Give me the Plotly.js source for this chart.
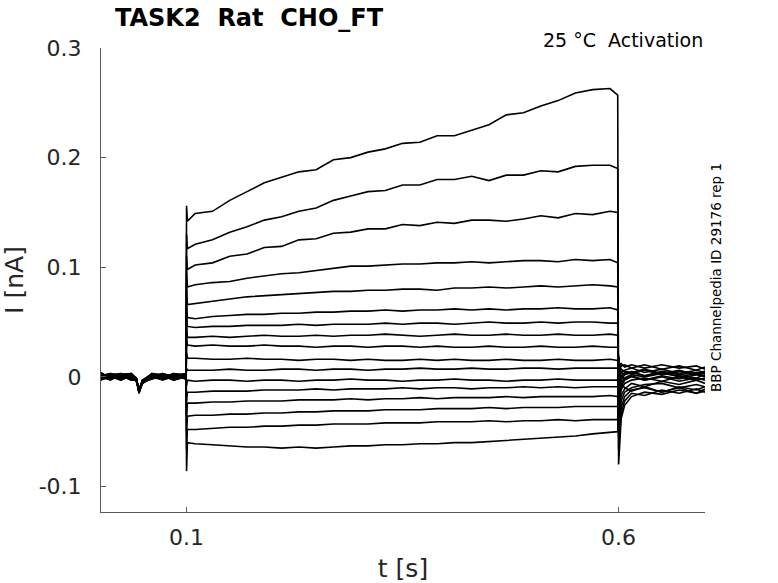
<!DOCTYPE html>
<html>
<head>
<meta charset="utf-8">
<script src="https://cdn.plot.ly/plotly-3.0.1.min.js"></script>
<style>html,body{margin:0;padding:0;background:#fff;}#chart{width:778px;height:583px;}</style>
</head>
<body>
<div id="chart"></div>
<script>
// time samples [s]
const tPre = [0.001, 0.012, 0.024, 0.036, 0.042, 0.045, 0.049, 0.06, 0.072, 0.085, 0.0995];
const tOn = 0.1;
const tStep = [0.101, 0.11, 0.13, 0.15, 0.17, 0.19, 0.21, 0.23, 0.25, 0.27, 0.29, 0.31, 0.33, 0.35,
               0.37, 0.39, 0.41, 0.43, 0.45, 0.47, 0.49, 0.51, 0.53, 0.55, 0.57, 0.59, 0.599];
const tPost = [0.6, 0.603, 0.607, 0.615, 0.63, 0.65, 0.67, 0.69, 0.7];

// current [nA] before the step, one row per sweep
const preI = [
  [0.002,-0.002,0.003,0.000,-0.003,-0.013,-0.004,0.002,-0.001,0.003,0.001],
  [-0.001,0.003,-0.002,0.002,-0.004,-0.012,-0.005,-0.001,0.002,-0.002,0.000],
  [0.003,0.000,0.001,-0.003,-0.002,-0.014,-0.003,0.003,0.000,0.001,-0.002],
  [0.000,0.002,-0.003,0.001,-0.004,-0.011,-0.006,0.000,0.003,-0.001,0.002],
  [-0.002,-0.001,0.002,0.003,-0.001,-0.013,-0.004,-0.002,0.001,0.002,-0.001],
  [0.001,0.003,0.000,-0.002,-0.003,-0.015,-0.005,0.001,-0.003,0.000,0.003],
  [0.004,-0.002,0.001,0.000,-0.002,-0.012,-0.003,0.002,0.001,-0.003,0.000],
  [-0.003,0.001,-0.001,0.002,-0.004,-0.013,-0.006,-0.001,0.002,0.001,-0.002],
  [0.000,-0.003,0.002,-0.001,-0.003,-0.014,-0.004,0.003,-0.002,0.002,0.001],
  [0.002,0.001,-0.002,0.003,-0.002,-0.012,-0.005,0.000,0.000,-0.002,0.003],
  [-0.001,0.002,0.003,-0.002,-0.003,-0.013,-0.003,-0.002,0.003,0.000,-0.001],
  [0.003,-0.001,0.000,0.001,-0.004,-0.011,-0.004,0.001,-0.001,0.003,0.002],
  [-0.002,0.000,-0.003,0.002,-0.002,-0.014,-0.006,0.002,0.001,-0.001,0.000],
  [0.001,0.003,0.001,-0.001,-0.003,-0.012,-0.003,-0.001,-0.002,0.002,-0.002],
  [0.000,-0.002,0.002,0.003,-0.004,-0.013,-0.005,0.003,0.002,-0.003,0.001],
  [-0.003,0.002,-0.001,0.000,-0.002,-0.015,-0.004,0.000,-0.001,0.001,0.003],
  [0.002,0.000,0.003,-0.003,-0.003,-0.012,-0.005,-0.002,0.003,0.000,-0.001]
];

// capacitive spike at step onset
const spikeOn = [0.156, 0.130, 0.110, 0.095, 0.080, 0.065, 0.055, 0.045, 0.035, 0.022,
                 0.008, -0.008, -0.022, -0.036, -0.050, -0.066, -0.086];

// current during the step
const stepI = [
  [0.142,0.149,0.151,0.161,0.169,0.177,0.182,0.187,0.189,0.198,0.200,0.205,0.208,0.213,0.214,0.220,0.220,0.225,0.230,0.239,0.241,0.247,0.252,0.259,0.262,0.263,0.257],
  [0.117,0.121,0.125,0.132,0.137,0.143,0.146,0.151,0.154,0.161,0.165,0.169,0.170,0.175,0.175,0.180,0.180,0.183,0.179,0.184,0.184,0.188,0.187,0.192,0.193,0.193,0.190],
  [0.098,0.102,0.104,0.110,0.112,0.118,0.119,0.125,0.126,0.131,0.132,0.135,0.135,0.139,0.138,0.141,0.140,0.143,0.143,0.142,0.144,0.147,0.145,0.149,0.148,0.151,0.150],
  [0.082,0.084,0.086,0.087,0.090,0.092,0.094,0.095,0.097,0.099,0.101,0.101,0.102,0.103,0.103,0.104,0.104,0.105,0.104,0.105,0.106,0.106,0.105,0.107,0.106,0.107,0.104],
  [0.066,0.067,0.069,0.071,0.073,0.074,0.075,0.076,0.077,0.078,0.078,0.079,0.079,0.080,0.080,0.079,0.081,0.081,0.082,0.081,0.082,0.083,0.082,0.083,0.084,0.083,0.082],
  [0.054,0.053,0.055,0.056,0.057,0.057,0.058,0.058,0.059,0.059,0.060,0.060,0.061,0.060,0.061,0.061,0.062,0.061,0.062,0.061,0.062,0.062,0.063,0.062,0.062,0.063,0.061],
  [0.046,0.045,0.046,0.046,0.047,0.047,0.047,0.048,0.047,0.048,0.048,0.048,0.049,0.048,0.049,0.049,0.048,0.049,0.050,0.049,0.049,0.050,0.049,0.050,0.050,0.049,0.049],
  [0.036,0.036,0.037,0.036,0.037,0.038,0.037,0.037,0.038,0.037,0.038,0.038,0.039,0.038,0.037,0.038,0.039,0.038,0.038,0.039,0.038,0.038,0.039,0.038,0.038,0.039,0.038],
  [0.029,0.028,0.029,0.028,0.028,0.029,0.028,0.028,0.027,0.028,0.028,0.027,0.028,0.028,0.027,0.028,0.027,0.027,0.028,0.027,0.027,0.028,0.027,0.027,0.028,0.027,0.027],
  [0.017,0.017,0.016,0.016,0.017,0.016,0.016,0.015,0.016,0.016,0.015,0.016,0.015,0.015,0.016,0.015,0.016,0.015,0.015,0.016,0.015,0.015,0.016,0.015,0.015,0.016,0.015],
  [0.006,0.006,0.006,0.007,0.006,0.006,0.007,0.007,0.006,0.007,0.007,0.006,0.007,0.007,0.008,0.007,0.007,0.008,0.007,0.007,0.008,0.008,0.007,0.008,0.008,0.008,0.008],
  [-0.003,-0.004,-0.003,-0.003,-0.004,-0.003,-0.003,-0.004,-0.003,-0.003,-0.002,-0.003,-0.003,-0.004,-0.003,-0.003,-0.002,-0.003,-0.003,-0.004,-0.003,-0.003,-0.002,-0.003,-0.003,-0.003,-0.003],
  [-0.014,-0.014,-0.013,-0.013,-0.013,-0.012,-0.012,-0.012,-0.011,-0.012,-0.011,-0.011,-0.011,-0.010,-0.011,-0.010,-0.010,-0.011,-0.010,-0.010,-0.009,-0.010,-0.009,-0.010,-0.009,-0.009,-0.009],
  [-0.024,-0.024,-0.023,-0.023,-0.022,-0.022,-0.022,-0.021,-0.021,-0.021,-0.020,-0.021,-0.020,-0.020,-0.019,-0.020,-0.019,-0.019,-0.019,-0.018,-0.019,-0.018,-0.018,-0.018,-0.018,-0.017,-0.018],
  [-0.036,-0.035,-0.035,-0.034,-0.034,-0.033,-0.033,-0.032,-0.032,-0.031,-0.031,-0.031,-0.030,-0.030,-0.030,-0.029,-0.029,-0.029,-0.028,-0.029,-0.028,-0.028,-0.028,-0.027,-0.027,-0.027,-0.027],
  [-0.048,-0.048,-0.047,-0.046,-0.046,-0.045,-0.045,-0.044,-0.044,-0.043,-0.043,-0.043,-0.042,-0.042,-0.042,-0.041,-0.041,-0.041,-0.040,-0.041,-0.040,-0.040,-0.039,-0.040,-0.039,-0.039,-0.039],
  [-0.060,-0.061,-0.062,-0.063,-0.064,-0.064,-0.065,-0.064,-0.065,-0.064,-0.063,-0.063,-0.062,-0.062,-0.061,-0.061,-0.060,-0.060,-0.059,-0.058,-0.057,-0.056,-0.055,-0.054,-0.052,-0.051,-0.050]
];

// offset spike and tail after the step
const postI = [
  [-0.080,-0.038,-0.026,-0.018,-0.014,-0.016,-0.012,-0.015,-0.013],
  [-0.066,-0.033,-0.022,-0.015,-0.017,-0.012,-0.015,-0.011,-0.014],
  [-0.055,-0.028,-0.018,-0.012,-0.010,-0.014,-0.009,-0.012,-0.009],
  [-0.045,-0.022,-0.014,-0.010,-0.007,-0.006,-0.010,-0.007,-0.009],
  [-0.038,-0.017,-0.011,-0.006,-0.009,-0.004,-0.007,-0.003,-0.006],
  [-0.030,-0.012,-0.006,-0.003,-0.001,-0.004,0.000,-0.003,-0.001],
  [-0.024,-0.009,-0.003,0.000,-0.003,0.001,-0.002,0.002,0.000],
  [-0.018,-0.006,-0.001,0.002,0.000,0.003,0.001,-0.001,0.002],
  [-0.012,-0.003,0.002,0.004,0.001,0.005,0.002,0.004,0.003],
  [-0.006,0.000,0.004,0.003,0.006,0.002,0.005,0.003,0.005],
  [0.000,0.004,0.006,0.008,0.004,0.007,0.003,0.006,0.004],
  [0.006,0.010,0.011,0.008,0.011,0.007,0.010,0.006,0.009],
  [0.010,0.012,0.009,0.011,0.008,0.011,0.008,0.010,0.007],
  [0.014,0.007,0.005,0.004,0.007,0.003,0.006,0.002,0.005],
  [0.016,0.004,0.002,0.005,0.001,0.004,0.000,0.003,0.001],
  [0.018,0.001,-0.002,0.001,-0.003,0.000,-0.004,-0.001,-0.003],
  [0.020,-0.006,-0.010,-0.013,-0.009,-0.014,-0.010,-0.015,-0.011]
];

const xTicks = [0.1, 0.6];
const xTickText = ['0.1', '0.6'];
const yTicks = [-0.1, 0, 0.1, 0.2, 0.3];
const yTickText = ['-0.1', '0', '0.1', '0.2', '0.3'];

const tAll = tPre.concat([tOn], tStep, tPost);
const traces = preI.map((pre, k) => ({
  type: 'scatter',
  mode: 'lines',
  x: tAll,
  y: pre.concat([spikeOn[k]], stepI[k], postI[k]),
  line: {color: '#000000', width: 1.6},
  hoverinfo: 'skip',
  showlegend: false
}));

const FONT = 'DejaVu Sans, sans-serif';
const AXC = '#5a5a5a';
const TXT = '#262626';

const layout = {
  width: 778,
  height: 583,
  margin: {l: 101, r: 73, t: 48, b: 71, pad: 0},
  paper_bgcolor: '#ffffff',
  plot_bgcolor: '#ffffff',
  font: {family: FONT, color: TXT},
  showlegend: false,
  title: {
    text: '<b>TASK2\u00a0\u00a0Rat\u00a0\u00a0CHO_FT</b>',
    font: {family: FONT, size: 24, color: '#000000'},
    xref: 'container', yref: 'container',
    x: 115 / 778, xanchor: 'left',
    y: 1 - 18 / 583, yanchor: 'middle'
  },
  xaxis: {
    range: [0.001, 0.7],
    tickmode: 'array', tickvals: xTicks, ticktext: xTickText,
    ticks: 'inside', ticklen: 5, tickwidth: 1, tickcolor: AXC,
    showline: true, linecolor: AXC, linewidth: 1,
    showgrid: false, zeroline: false, mirror: false,
    tickfont: {family: FONT, size: 22, color: TXT},
    ticklabelstandoff: 6,
    title: {text: 't [s]', font: {family: FONT, size: 25, color: TXT}, standoff: 10}
  },
  yaxis: {
    range: [-0.1233, 0.3],
    tickmode: 'array', tickvals: yTicks, ticktext: yTickText,
    ticks: 'inside', ticklen: 5, tickwidth: 1, tickcolor: AXC,
    showline: true, linecolor: AXC, linewidth: 1,
    showgrid: false, zeroline: false, mirror: false,
    tickfont: {family: FONT, size: 22, color: TXT},
    ticklabelstandoff: 14,
    title: {text: 'I [nA]', font: {family: FONT, size: 25, color: TXT}, standoff: 12}
  },
  annotations: [
    {
      text: '25 °C\u00a0\u00a0Activation',
      xref: 'paper', yref: 'paper',
      x: 1, xanchor: 'right',
      y: (512 - 40) / 464, yanchor: 'middle',
      showarrow: false,
      font: {family: FONT, size: 19, color: '#000000'}
    },
    {
      text: 'BBP Channelpedia ID 29176 rep 1',
      xref: 'paper', yref: 'paper',
      x: (716 - 101) / 604, xanchor: 'center',
      y: (512 - 278) / 464, yanchor: 'middle',
      textangle: -90,
      showarrow: false,
      font: {family: FONT, size: 13.5, color: '#000000'}
    }
  ]
};

Plotly.newPlot('chart', traces, layout, {displayModeBar: false, staticPlot: true});
</script>
</body>
</html>
